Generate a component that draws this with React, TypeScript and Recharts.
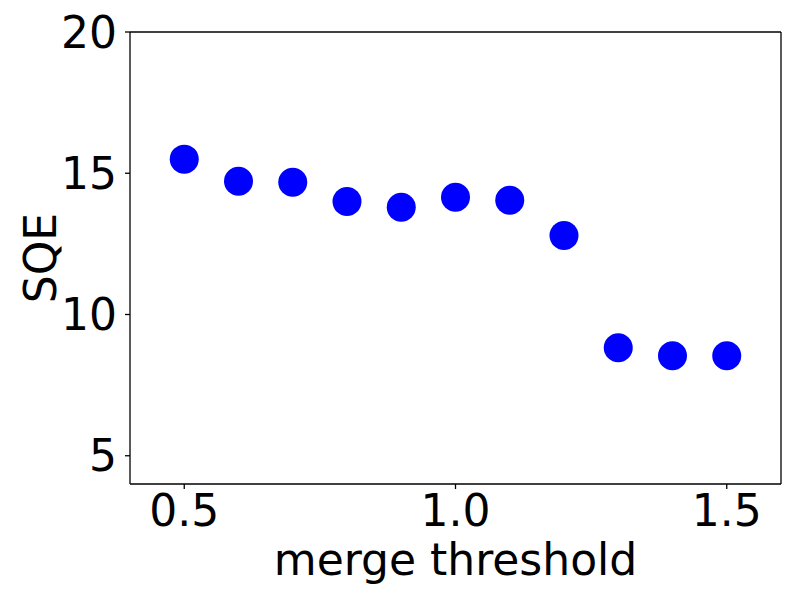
import React from 'react';
import { ScatterChart, Scatter, XAxis, YAxis, ReferenceLine } from 'recharts';

// merge threshold values and the resulting SQE
const thresholds = [0.5, 0.6, 0.7, 0.8, 0.9, 1.0, 1.1, 1.2, 1.3, 1.4, 1.5];
const sqeValues = [15.5, 14.72, 14.68, 14.0, 13.8, 14.15, 14.04, 12.8, 8.82, 8.54, 8.54];
const xTicks = [0.5, 1.0, 1.5];
const yTicks = [5, 10, 15, 20];
const xDomain = [0.4, 1.6];
const yDomain = [4, 20];

const points = thresholds.map((t, i) => ({ threshold: t, sqe: sqeValues[i] }));

const FONT = '"DejaVu Sans", sans-serif';

const Dot = (props: any) => {
    const { cx, cy } = props;
    return <circle cx={cx} cy={cy} r={14.5} fill="#0000ff" />;
};

const XLabel = (props: any) => {
    const vb = props.viewBox || {};
    return (
        <text
            x={vb.x + vb.width / 2}
            y={vb.y + 91}
            textAnchor="middle"
            fontSize={44}
            fontFamily={FONT}
            fill="#000"
        >
            merge threshold
        </text>
    );
};

const YLabel = (props: any) => {
    const vb = props.viewBox || {};
    const cx = 40;
    const cy = vb.y + vb.height / 2;
    return (
        <text
            x={cx}
            y={cy}
            transform={`rotate(-90, ${cx}, ${cy})`}
            textAnchor="middle"
            dominantBaseline="central"
            fontSize={44}
            fontFamily={FONT}
            fill="#000"
        >
            SQE
        </text>
    );
};

export default function App() {
    return (
        <div style={{ position: 'absolute', left: 0, top: 0, background: '#fff' }}>
            <ScatterChart
                width={800}
                height={600}
                margin={{ top: 32, right: 19, bottom: 0, left: 0 }}
            >
                <XAxis
                    type="number"
                    dataKey="threshold"
                    domain={xDomain}
                    ticks={xTicks}
                    tickFormatter={(v: number) => v.toFixed(1)}
                    height={116}
                    tickSize={5}
                    tickMargin={6}
                    tick={{ fontSize: 44, fontFamily: FONT, fill: '#000' }}
                    axisLine={{ stroke: '#000', strokeWidth: 1.3 }}
                    tickLine={{ stroke: '#000', strokeWidth: 1.3 }}
                    allowDataOverflow
                    label={<XLabel />}
                />
                <YAxis
                    type="number"
                    dataKey="sqe"
                    domain={yDomain}
                    ticks={yTicks}
                    width={130}
                    tickSize={5}
                    tickMargin={8}
                    tick={{ fontSize: 44, fontFamily: FONT, fill: '#000' }}
                    axisLine={{ stroke: '#000', strokeWidth: 1.3 }}
                    tickLine={{ stroke: '#000', strokeWidth: 1.3 }}
                    allowDataOverflow
                    label={<YLabel />}
                />
                {/* top and right edges of the frame */}
                <ReferenceLine y={yDomain[1]} stroke="#000" strokeWidth={1.3} />
                <ReferenceLine x={xDomain[1]} stroke="#000" strokeWidth={1.3} />
                <Scatter data={points} shape={<Dot />} isAnimationActive={false} />
            </ScatterChart>
        </div>
    );
}
